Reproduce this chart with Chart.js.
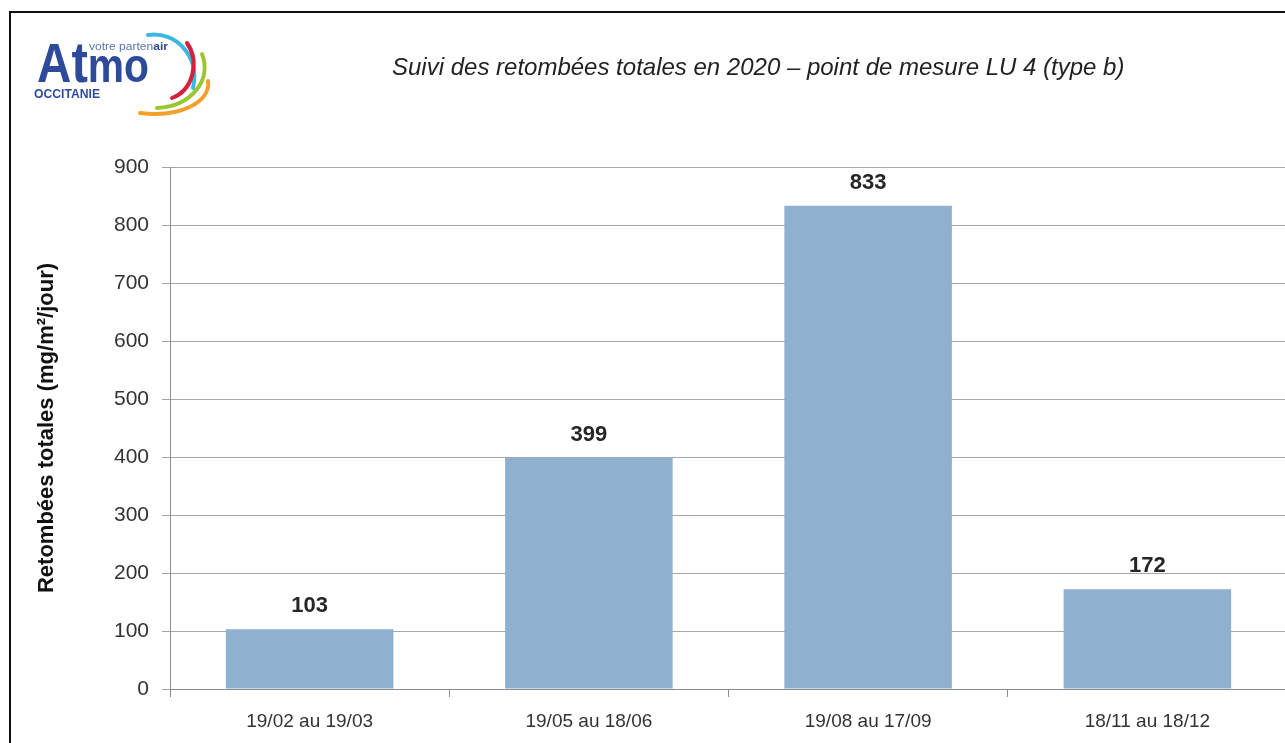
<!DOCTYPE html>
<html>
<head>
<meta charset="utf-8">
<script src="https://cdn.jsdelivr.net/npm/chart.js@4/dist/chart.umd.min.js"></script>
<style>
  html, body { margin: 0; padding: 0; background: #fff; overflow: hidden; width: 1285px; height: 743px; }
  #frame { position: absolute; left: 9px; top: 11px; width: 1400px; height: 800px; border-left: 2px solid #111; border-top: 2px solid #111; }
  #logo { position: absolute; left: 0; top: 0; }
  #title { position: absolute; left: 392px; top: 53px; white-space: nowrap; font: italic 24px "Liberation Sans", Arial, sans-serif; color: #222; }
  #wrap { position: absolute; left: 0; top: 0; width: 1300px; height: 743px; }
</style>
</head>
<body>
<div id="wrap"><canvas id="chart" width="1300" height="743"></canvas></div>
<div id="frame"></div>
<svg id="logo" width="230" height="130">
  <text x="89" y="50" font-family="Liberation Sans, Arial" font-size="11.5" fill="#5b72b5" textLength="79" lengthAdjust="spacingAndGlyphs">votre parten<tspan font-weight="bold" fill="#2e4b9b">air</tspan></text>
  <text x="37" y="82" font-family="Liberation Sans, Arial" font-weight="bold" font-size="56" fill="#2e4b9b" textLength="112" lengthAdjust="spacingAndGlyphs">A<tspan font-size="58">t</tspan><tspan font-size="48">mo</tspan></text>
  <text x="34" y="98" font-family="Liberation Sans, Arial" font-weight="bold" font-size="12.5" fill="#2e4b9b" textLength="66" lengthAdjust="spacingAndGlyphs">OCCITANIE</text>
  <g fill="none" stroke-width="4" stroke-linecap="round">
    <path d="M148,35 C175,31 200,55 193,88" stroke="#3bb8e0"/>
    <path d="M187,43 C200,62 193,90 172,98" stroke="#d4213d"/>
    <path d="M202,54 C212,80 192,106 157,108" stroke="#9cc62f"/>
    <path d="M208,81 C211,102 180,118 140,113" stroke="#f2a02a"/>
  </g>
</svg>
<div id="title">Suivi des retombées totales en 2020 – point de mesure LU 4 (type b)</div>
<script>
const categories = ['19/02 au 19/03', '19/05 au 18/06', '19/08 au 17/09', '18/11 au 18/12'];
const values = [103, 399, 833, 172];
const yMin = 0;
const yMax = 900;
const yStep = 100;
const yTitle = 'Retombées totales (mg/m²/jour)';

const font = '"Liberation Sans", Arial, sans-serif';

// values above each bar
const valueLabels = {
  id: 'valueLabels',
  afterDatasetsDraw(chart) {
    const ctx = chart.ctx;
    const meta = chart.getDatasetMeta(0);
    ctx.save();
    ctx.font = 'bold 22px ' + font;
    ctx.fillStyle = '#262626';
    ctx.textAlign = 'center';
    ctx.textBaseline = 'middle';
    meta.data.forEach((bar, i) => ctx.fillText(values[i], bar.x, bar.y - 23));
    ctx.restore();
  }
};

new Chart('chart', {
  type: 'bar',
  data: {
    labels: categories,
    datasets: [{
      data: values,
      backgroundColor: '#8fb0cf',
      borderWidth: 0,
      categoryPercentage: 1,
      barPercentage: 0.6
    }]
  },
  options: {
    responsive: false,
    animation: false,
    devicePixelRatio: 1,
    layout: { padding: { top: 167, right: 13, left: 0, bottom: 0 } },
    plugins: { legend: { display: false }, tooltip: { enabled: false } },
    scales: {
      y: {
        min: yMin, max: yMax,
        ticks: { stepSize: yStep, padding: 13, color: '#333', font: { family: font, size: 21 } },
        grid: { color: '#a6a6a6', tickLength: 8 },
        border: { color: '#8c8c8c' },
        title: { display: true, text: yTitle, color: '#111', font: { family: font, size: 22, weight: 'bold' }, padding: { top: 34, bottom: 0 } },
        afterFit(s) { s.width = 170; }
      },
      x: {
        grid: { drawOnChartArea: false, tickLength: 8, color: '#8c8c8c', offset: true },
        border: { color: '#8c8c8c' },
        ticks: { padding: 13, color: '#333', font: { family: font, size: 19 } },
        afterFit(s) { s.height = 54; }
      }
    }
  },
  plugins: [valueLabels]
});
</script>
</body>
</html>
